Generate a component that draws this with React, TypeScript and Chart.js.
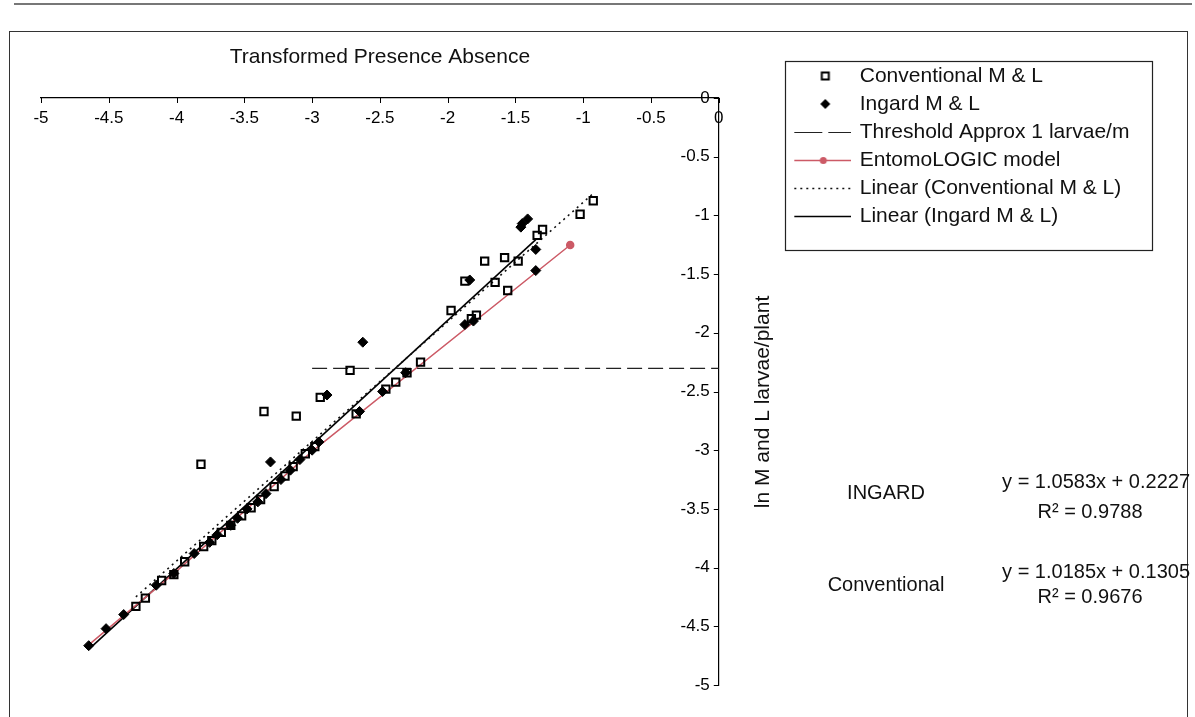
import React, { useEffect, useRef } from 'react';
import { Chart, registerables } from 'chart.js';

Chart.register(...registerables);

const FONT = "'Liberation Sans', Arial, Helvetica, sans-serif";

// ---- data ----
const convX = [-4.30, -4.23, -4.11, -4.02, -3.94, -3.80, -3.74, -3.67, -3.60, -3.52, -3.45, -3.38, -3.28, -3.20, -3.14, -3.05, -2.98, -3.82, -3.355, -3.117, -2.94, -2.72, -2.675, -2.456, -2.383, -2.30, -2.20, -1.975, -1.825, -1.788, -1.873, -1.727, -1.65, -1.557, -1.58, -1.48, -1.34, -1.30, -1.023, -0.926];
const convY = [-4.33, -4.26, -4.11, -4.06, -3.95, -3.82, -3.77, -3.70, -3.64, -3.56, -3.49, -3.42, -3.31, -3.22, -3.14, -3.03, -2.97, -3.12, -2.67, -2.71, -2.55, -2.32, -2.69, -2.48, -2.42, -2.34, -2.25, -1.81, -1.88, -1.85, -1.56, -1.39, -1.57, -1.64, -1.36, -1.39, -1.17, -1.12, -0.99, -0.875];

const ingX = [-4.648, -4.52, -4.39, -4.15, -4.02, -3.87, -3.756, -3.70, -3.60, -3.55, -3.48, -3.40, -3.34, -3.23, -3.16, -3.09, -3.00, -2.95, -3.307, -2.89, -2.626, -2.65, -2.48, -2.31, -1.873, -1.81, -1.837, -1.35, -1.35, -1.46, -1.45, -1.41];
const ingY = [-4.665, -4.52, -4.40, -4.15, -4.05, -3.88, -3.785, -3.72, -3.64, -3.58, -3.50, -3.44, -3.37, -3.25, -3.17, -3.08, -3.00, -2.93, -3.10, -2.53, -2.08, -2.67, -2.50, -2.34, -1.93, -1.90, -1.55, -1.47, -1.29, -1.10, -1.07, -1.03];

const thresholdX = [-3.0, 0];
const thresholdY = [-2.3026, -2.3026];

const modelX = [-4.65, -4.0, -3.5, -3.0, -1.096];
const modelY = [-4.66, -4.03, -3.52, -3.01, -1.252];

const trendConvX = [-4.30, -0.926];
const trendConvY = [-4.249, -0.813];

const trendIngX = [-4.648, -1.35];
const trendIngY = [-4.696, -1.206];

const xTicks = { min: -5, max: 0, step: 0.5 };
const yTicks = { min: -5, max: 0, step: 0.5 };

const seriesNames = [
  'Conventional M & L',
  'Ingard M & L',
  'Threshold Approx 1 larvae/m',
  'EntomoLOGIC model',
  'Linear (Conventional M & L)',
  'Linear (Ingard M & L)',
];

const chartTitle = 'Transformed Presence Absence';
const yTitle = 'ln M and L larvae/plant';
const annotations = [
  { label: 'INGARD', eq: 'y = 1.0583x + 0.2227', r2: 'R\u00b2 = 0.9788' },
  { label: 'Conventional', eq: 'y = 1.0185x + 0.1305', r2: 'R\u00b2 = 0.9676' },
];

const RED = '#cc5a66';

const pts = (xs: number[], ys: number[]) => xs.map((x, i) => ({ x, y: ys[i] }));
const fmt = (v: any) => String(Math.round(Number(v) * 10) / 10);

function makeIcon(draw: (ctx: CanvasRenderingContext2D) => void) {
  const c = document.createElement('canvas');
  c.width = 64;
  c.height = 20;
  const ctx = c.getContext('2d')!;
  draw(ctx);
  return c;
}

function hLine(ctx: CanvasRenderingContext2D, color: string, dash: number[], w = 1.3) {
  ctx.strokeStyle = color;
  ctx.lineWidth = w;
  ctx.setLineDash(dash);
  ctx.beginPath();
  ctx.moveTo(7, 10.5);
  ctx.lineTo(64, 10.5);
  ctx.stroke();
  ctx.setLineDash([]);
}

const decorPlugin = {
  id: 'decor',
  afterDraw(chart: any) {
    const { ctx, chartArea, scales } = chart;
    const xs = scales.x;
    const ys = scales.y;
    ctx.save();
    // scan edge line and outer frame
    ctx.strokeStyle = '#777';
    ctx.lineWidth = 2;
    ctx.beginPath();
    ctx.moveTo(14, 4);
    ctx.lineTo(1192, 4);
    ctx.stroke();
    ctx.strokeStyle = '#333';
    ctx.lineWidth = 1;
    ctx.strokeRect(9.5, 31.5, 1178, 700);

    // small inner tick marks
    ctx.strokeStyle = '#000';
    ctx.beginPath();
    xs.ticks.forEach((t: any) => {
      const px = Math.round(xs.getPixelForValue(t.value)) + 0.5;
      ctx.moveTo(px, chartArea.top);
      ctx.lineTo(px, chartArea.top + 5);
    });
    ys.ticks.forEach((t: any) => {
      const py = Math.round(ys.getPixelForValue(t.value)) + 0.5;
      ctx.moveTo(chartArea.right, py);
      ctx.lineTo(chartArea.right - 5, py);
    });
    ctx.stroke();

    // legend frame
    const lg = chart.legend;
    if (lg) {
      const left = Math.round(lg.left + 2.5) + 0.5;
      const top = Math.round(lg.top + 33) + 0.5;
      ctx.strokeStyle = '#222';
      ctx.lineWidth = 1.2;
      ctx.strokeRect(left, top, 367, 189);
    }

    // y axis title (reads bottom to top)
    ctx.fillStyle = '#111';
    ctx.font = `21px ${FONT}`;
    ctx.textAlign = 'center';
    ctx.textBaseline = 'middle';
    ctx.save();
    ctx.translate(763, 402);
    ctx.rotate(-Math.PI / 2);
    ctx.fillText(yTitle, 0, 0);
    ctx.restore();

    // regression annotations
    ctx.font = `20px ${FONT}`;
    const rows = [
      { ly: 493, ey: 482, ry: 512 },
      { ly: 585, ey: 572, ry: 597 },
    ];
    annotations.forEach((a, i) => {
      const r = rows[i];
      ctx.textAlign = 'center';
      ctx.fillText(a.label, 886, r.ly);
      ctx.textAlign = 'right';
      ctx.fillText(a.eq, 1190, r.ey);
      ctx.textAlign = 'center';
      ctx.fillText(a.r2, 1090, r.ry);
    });
    ctx.restore();
  },
};

export default function App() {
  const ref = useRef<HTMLCanvasElement | null>(null);

  useEffect(() => {
    if (!ref.current) return;

    const icons = [
      makeIcon((c) => {
        c.strokeStyle = '#000';
        c.lineWidth = 2;
        c.strokeRect(38 - 3.5, 10 - 3.5, 7, 7);
      }),
      makeIcon((c) => {
        c.fillStyle = '#000';
        c.beginPath();
        c.moveTo(38, 5);
        c.lineTo(43, 10);
        c.lineTo(38, 15);
        c.lineTo(33, 10);
        c.closePath();
        c.fill();
      }),
      makeIcon((c) => hLine(c, '#222', [28, 6], 1.2)),
      makeIcon((c) => {
        hLine(c, RED, [], 1.5);
        c.fillStyle = RED;
        c.beginPath();
        c.arc(36, 10.5, 3.5, 0, Math.PI * 2);
        c.fill();
      }),
      makeIcon((c) => hLine(c, '#111', [2, 4], 1.6)),
      makeIcon((c) => hLine(c, '#000', [], 1.6)),
    ];

    const lastModel = modelX.length - 1;

    const chart = new Chart(ref.current, {
      type: 'scatter',
      data: {
        datasets: [
          {
            label: seriesNames[0],
            data: pts(convX, convY),
            pointStyle: 'rect',
            pointRadius: 5.2,
            pointBorderWidth: 2,
            pointBorderColor: '#000',
            pointBackgroundColor: 'rgba(255,255,255,0)',
            showLine: false,
          },
          {
            label: seriesNames[1],
            data: pts(ingX, ingY),
            pointStyle: 'rectRot',
            pointRadius: 5,
            pointBorderWidth: 1,
            pointBorderColor: '#000',
            pointBackgroundColor: '#000',
            showLine: false,
          },
          {
            label: seriesNames[2],
            data: pts(thresholdX, thresholdY),
            showLine: true,
            borderColor: '#222',
            borderWidth: 1.2,
            borderDash: [15, 6],
            pointRadius: 0,
          },
          {
            label: seriesNames[3],
            data: pts(modelX, modelY),
            showLine: true,
            borderColor: RED,
            borderWidth: 1.5,
            pointRadius: (c: any) => (c.dataIndex === lastModel ? 3.5 : 0),
            pointBackgroundColor: RED,
            pointBorderColor: RED,
          },
          {
            label: seriesNames[4],
            data: pts(trendConvX, trendConvY),
            showLine: true,
            borderColor: '#111',
            borderWidth: 1.6,
            borderDash: [2, 4],
            pointRadius: 0,
          },
          {
            label: seriesNames[5],
            data: pts(trendIngX, trendIngY),
            showLine: true,
            borderColor: '#000',
            borderWidth: 1.6,
            pointRadius: 0,
          },
        ],
      },
      options: {
        responsive: true,
        maintainAspectRatio: false,
        animation: false,
        events: [],
        layout: { padding: { left: 41, right: 55.6, top: 28, bottom: 32 } },
        scales: {
          x: {
            type: 'linear',
            position: 'top',
            min: xTicks.min,
            max: xTicks.max,
            grid: { display: true, drawOnChartArea: false, drawTicks: false },
            border: { display: true, color: '#000', width: 1.2 },
            ticks: {
              stepSize: xTicks.step,
              mirror: true,
              padding: 10,
              color: '#000',
              font: { family: FONT, size: 17 },
              callback: fmt,
            },
          },
          y: {
            type: 'linear',
            position: 'right',
            min: yTicks.min,
            max: yTicks.max,
            grid: { display: true, drawOnChartArea: false, drawTicks: false },
            border: { display: true, color: '#000', width: 1.2 },
            ticks: {
              stepSize: yTicks.step,
              mirror: true,
              padding: -9,
              color: '#000',
              font: { family: FONT, size: 17 },
              callback: fmt,
            },
            afterFit: (scale: any) => {
              scale.width = 63.5;
            },
          },
        },
        plugins: {
          tooltip: { enabled: false },
          title: {
            display: true,
            text: chartTitle,
            fullSize: false,
            color: '#111',
            font: { family: FONT, size: 21, weight: 'normal' },
            padding: { top: 16.4, bottom: 8.4 },
          },
          legend: {
            display: true,
            position: 'right',
            align: 'start',
            maxWidth: 420,
            title: { display: true, text: ' ', font: { size: 10 }, padding: { top: 18.5, bottom: 0 } },
            labels: {
              usePointStyle: true,
              pointStyleWidth: 60,
              padding: 7,
              color: '#111',
              font: { family: FONT, size: 21 },
              generateLabels: () =>
                seriesNames.map((text, i) => ({
                  text,
                  pointStyle: icons[i] as any,
                  datasetIndex: i,
                  hidden: false,
                  fillStyle: 'rgba(0,0,0,0)',
                  strokeStyle: 'rgba(0,0,0,0)',
                  lineWidth: 0,
                  fontColor: '#111',
                })),
            },
          },
        },
      } as any,
      plugins: [decorPlugin],
    });

    return () => chart.destroy();
  }, []);

  return (
    <div style={{ position: 'absolute', left: 0, top: 0, width: 1195, height: 717, background: '#fff' }}>
      <canvas ref={ref} />
    </div>
  );
}
